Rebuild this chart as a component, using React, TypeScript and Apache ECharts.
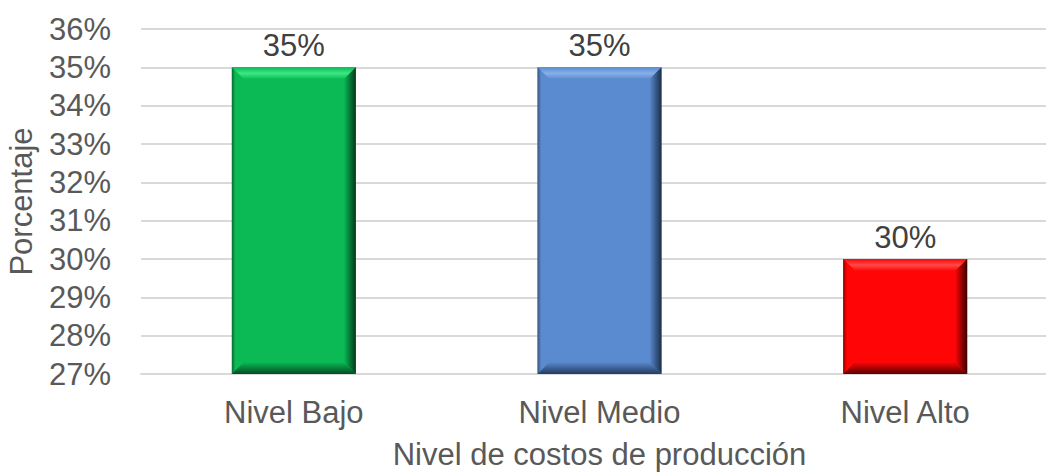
import React, { useEffect, useRef } from "react";
import * as echarts from "echarts";

const categories = ["Nivel Bajo", "Nivel Medio", "Nivel Alto"];
const values = [35, 35, 30];
const yTickMin = 27;
const yTickMax = 36;
const barColors = ["#0BBA55", "#5A8ACF", "#FF0505"];
const darkColors = ["#03381A", "#1A2E4A", "#3A0000"];
const lightColors = ["#3BE884", "#86B0E8", "#FF4A4A"];

export default function App() {
  const ref = useRef<HTMLDivElement>(null);
  useEffect(() => {
    const chart = echarts.init(ref.current!, null, { renderer: "svg" });
    const textColor = "#595959";
    const font = "Liberation Sans, Arial, sans-serif";
    chart.setOption({
      animation: false,
      grid: { left: 141, width: 917, top: 29, height: 345, outerBoundsMode: "none", containLabel: false },
      xAxis: {
        type: "category",
        data: categories,
        axisTick: { show: false },
        axisLine: { lineStyle: { color: "#D9D9D9", width: 2 } },
        axisLabel: { color: textColor, fontSize: 31, fontFamily: font, margin: 23 },
        name: "Nivel de costos de producción",
        nameLocation: "middle",
        nameGap: 65,
        nameTextStyle: { color: textColor, fontSize: 31, fontFamily: font },
      },
      yAxis: {
        type: "value",
        min: yTickMin,
        max: yTickMax,
        interval: 1,
        axisLine: { show: false },
        axisTick: { show: false },
        splitLine: { lineStyle: { color: "#D9D9D9", width: 2 } },
        axisLabel: { color: textColor, fontSize: 31, fontFamily: font, margin: 30, formatter: "{value}%" },
        name: "Porcentaje",
        nameLocation: "middle",
        nameGap: 104,
        nameTextStyle: { color: textColor, fontSize: 31, fontFamily: font },
      },
      series: [
        {
          type: "bar",
          data: values.map((v, i) => ({ value: v, itemStyle: { color: barColors[i] } })),
          barWidth: 124,
          label: {
            show: true,
            position: "top",
            distance: 6,
            formatter: "{c}%",
            color: "#404040",
            fontSize: 31,
            fontFamily: font,
          },
          z: 2,
        },
        {
          type: "custom",
          z: 3,
          silent: true,
          data: values.map((v, i) => [i, v]),
          renderItem: (params: any, api: any) => {
            const i = api.value(0);
            const top = api.coord([i, api.value(1)]);
            const bottom = api.coord([i, yTickMin]);
            const w = 124;
            const x0 = top[0] - w / 2;
            const x1 = top[0] + w / 2;
            const y0 = top[1];
            const y1 = bottom[1];
            const b = 12;
            const dark = darkColors[i];
            const light = lightColors[i];
            const base = barColors[i];
            return {
              type: "group",
              children: [
                {
                  type: "polygon",
                  shape: { points: [[x0, y0], [x1, y0], [x1 - b, y0 + b], [x0 + b, y0 + b]] },
                  style: {
                    fill: new echarts.graphic.LinearGradient(0, 0, 0, 1, [
                      { offset: 0, color: base },
                      { offset: 0.5, color: light },
                      { offset: 1, color: base },
                    ]),
                  },
                },
                {
                  type: "polygon",
                  shape: { points: [[x0, y0], [x0 + b, y0 + b], [x0 + b, y1 - b], [x0, y1]] },
                  style: {
                    fill: new echarts.graphic.LinearGradient(0, 0, 1, 0, [
                      { offset: 0, color: dark },
                      { offset: 0.3, color: base },
                      { offset: 1, color: base },
                    ]),
                    opacity: 0.6,
                  },
                },
                {
                  type: "polygon",
                  shape: { points: [[x1, y0], [x1, y1], [x1 - b, y1 - b], [x1 - b, y0 + b]] },
                  style: {
                    fill: new echarts.graphic.LinearGradient(0, 0, 1, 0, [
                      { offset: 0, color: base },
                      { offset: 1, color: dark },
                    ]),
                  },
                },
                {
                  type: "polygon",
                  shape: { points: [[x0, y1], [x1, y1], [x1 - b, y1 - b], [x0 + b, y1 - b]] },
                  style: {
                    fill: new echarts.graphic.LinearGradient(0, 0, 0, 1, [
                      { offset: 0, color: base },
                      { offset: 1, color: dark },
                    ]),
                    opacity: 0.85,
                  },
                },
              ],
            };
          },
        },
      ],
    });
    return () => chart.dispose();
  }, []);
  return <div ref={ref} style={{ position: "fixed", left: 0, top: 0, width: 1046, height: 472, background: "#fff" }} />;
}
